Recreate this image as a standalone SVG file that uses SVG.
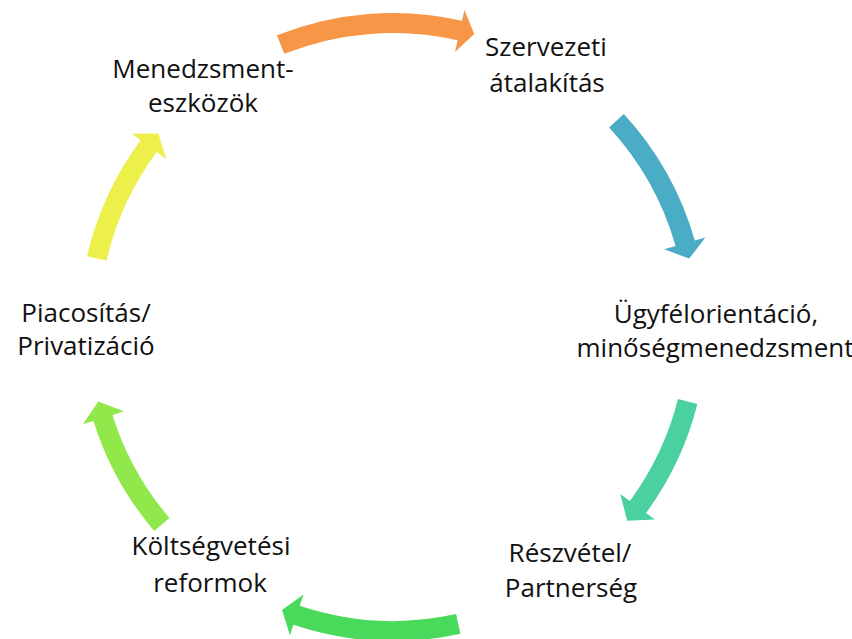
<svg xmlns="http://www.w3.org/2000/svg" width="852" height="639" viewBox="0 0 852 639">
<style>
text{font-family:"Open Sans","Noto Sans","Liberation Sans",sans-serif;font-size:26px;fill:#111;text-anchor:middle}
</style>
<rect width="852" height="639" fill="#fff"/>
<g id="connectors">
<path fill="#F79646" d="M276.9,35.3 A314,314 0 0 1 462,20.7 L464.4,10 L474.2,34.1 L455,51.9 L457.6,40.2 A294,294 0 0 0 284.3,53.8 Z"/>
<path fill="#4BACC6" d="M623.8,114 A314,314 0 0 1 694.8,240.5 L705.4,237.4 L689.2,258.6 L664.1,249.3 L675.6,246 A294,294 0 0 0 609.1,127.6 Z"/>
<path fill="#4BD1A0" d="M697.4,404 A314,314 0 0 1 646.1,512.9 L654.9,519.4 L627.2,520.8 L620.3,493.9 L629.9,501 A294,294 0 0 0 678,399.1 Z"/>
<path fill="#4ADA5B" d="M460.4,633.7 A314,314 0 0 1 293.4,624.8 L289.9,635.2 L282.1,610.1 L303.5,594.4 L299.7,605.8 A294,294 0 0 0 456.1,614.1 Z"/>
<path fill="#91E84B" d="M154.2,530.9 A314,314 0 0 1 93.4,420.9 L82.9,424.2 L98.3,401.6 L123.9,411.3 L112.5,414.9 A294,294 0 0 0 169.4,517.9 Z"/>
<path fill="#EDEF4A" d="M87,256.3 A314,314 0 0 1 140.6,140.2 L131.7,133.7 L158.4,133.6 L166.3,159.3 L156.7,152.1 A294,294 0 0 0 106.5,260.8 Z"/>
</g>
<g id="node-menedzsment"><text x="203" y="78">Menedzsment-</text><text x="203" y="112">eszközök</text></g>
<g id="node-szervezeti"><text x="546" y="56">Szervezeti</text><text x="547" y="92">átalakítás</text></g>
<g id="node-ugyfel"><text x="716" y="323">Ügyfélorientáció,</text><text x="715" y="357">minőségmenedzsment</text></g>
<g id="node-reszvetel"><text x="570" y="562">Részvétel/</text><text x="571" y="597">Partnerség</text></g>
<g id="node-koltseg"><text x="211" y="555">Költségvetési</text><text x="210" y="592">reformok</text></g>
<g id="node-piac"><text x="86" y="322">Piacosítás/</text><text x="86" y="355">Privatizáció</text></g>
</svg>
